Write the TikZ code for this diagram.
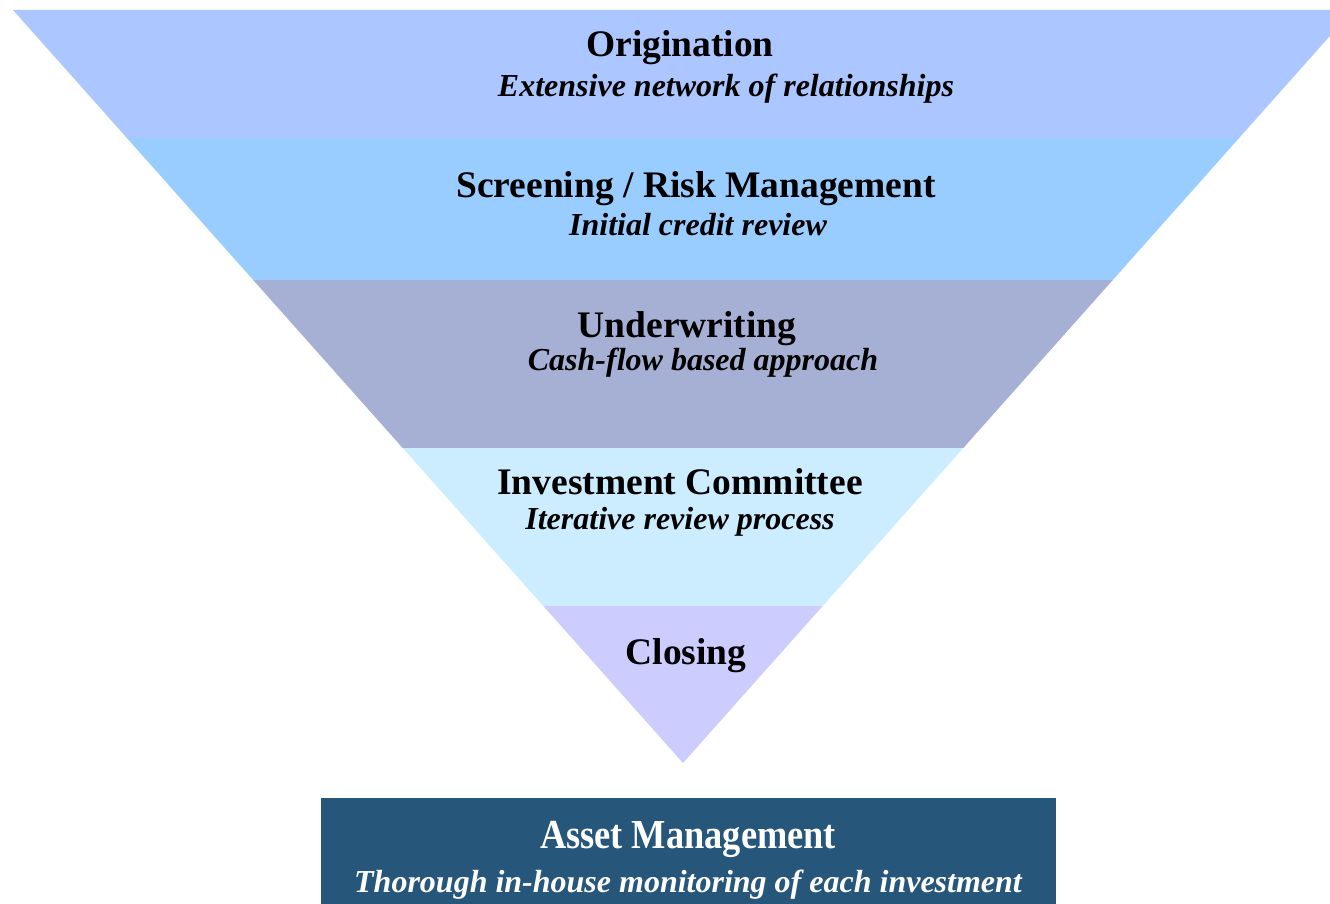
\documentclass[tikz,border=0pt]{standalone}
\usepackage{fontspec}
\setmainfont{Liberation Serif}
\definecolor{cOrig}{RGB}{172,198,255}
\definecolor{cScreen}{RGB}{153,204,255}
\definecolor{cUnder}{RGB}{166,176,213}
\definecolor{cIC}{RGB}{204,236,255}
\definecolor{cClose}{RGB}{204,204,255}
\definecolor{cAsset}{RGB}{39,86,123}
\tikzset{
  band/.style={draw=none},
  ttl/.style={anchor=base, inner sep=0pt, font=\fontsize{37.5}{42}\selectfont\bfseries},
  sub/.style={anchor=base, inner sep=0pt, font=\fontsize{32}{36}\selectfont\bfseries\itshape},
}
\begin{document}
\begin{tikzpicture}[x=1pt,y=-1pt]
\useasboundingbox (0,0) rectangle (1330,904);
\clip (0,0) rectangle (1330,904);
% funnel corners
\coordinate (L0) at (13,10);      \coordinate (R0) at (1353,10);
\coordinate (L1) at (126.9,138);  \coordinate (R1) at (1239.1,138);
\coordinate (L2) at (253.2,280);  \coordinate (R2) at (1112.8,280);
\coordinate (L3) at (402.7,448);  \coordinate (R3) at (963.3,448);
\coordinate (L4) at (543.3,606);  \coordinate (R4) at (822.7,606);
\coordinate (A)  at (683,763);
\fill[band, cOrig]   (L0) -- (R0) -- (R1) -- (L1) -- cycle;
\fill[band, cScreen] (L1) -- (R1) -- (R2) -- (L2) -- cycle;
\fill[band, cUnder]  (L2) -- (R2) -- (R3) -- (L3) -- cycle;
\fill[band, cIC]     (L3) -- (R3) -- (R4) -- (L4) -- cycle;
\fill[band, cClose]  (L4) -- (R4) -- (A) -- cycle;
% texts
\node[ttl] (t1) at (680,57)  {Origination};
\node[sub] (s1) at (726,97)  {Extensive network of relationships};
\node[ttl] (t2) at (696,197) {Screening / Risk Management};
\node[sub] (s2) at (698,236) {Initial credit review};
\node[ttl] (t3) at (687,337) {Underwriting};
\node[sub] (s3) at (703,370) {Cash-flow based approach};
\node[ttl] (t4) at (680,494) {Investment Committee};
\node[sub] (s4) at (680,529) {Iterative review process};
\node[ttl] (t5) at (686,664) {Closing};
% asset management box
\fill[cAsset] (321,798) rectangle (1056,910);
\node[ttl, text=white, yscale=1.1, xscale=0.97] (t6) at (688,848) {Asset Management};
\node[sub, text=white] (s6) at (688,892) {Thorough in-house monitoring of each investment};
\end{tikzpicture}
\end{document}
